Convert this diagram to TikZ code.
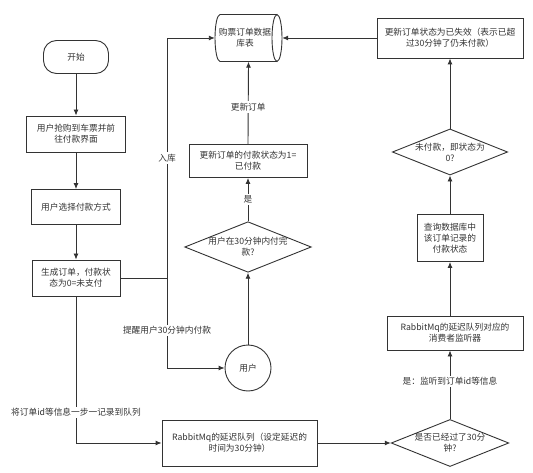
\documentclass[tikz,border=0pt]{standalone}
\usepackage{fontspec}
\setmainfont{Noto Sans CJK SC}
\usetikzlibrary{arrows.meta,shapes.geometric}
\definecolor{ink}{HTML}{333333}
\begin{document}
\begin{tikzpicture}[x=1pt,y=-1pt,
  every node/.style={font=\fontsize{8.7}{10.8}\selectfont, text=ink, align=center, inner sep=1pt},
  box/.style={draw=ink, line width=0.9pt, rectangle},
  dec/.style={draw=ink, line width=0.9pt, diamond, aspect=2.5, inner sep=0pt},
  conn/.style={draw=ink, line width=0.9pt, -{Latex[length=6pt,width=5pt]}},
  plain/.style={draw=ink, line width=0.9pt},
  lbl/.style={fill=white, inner sep=1.5pt}]
\path[use as bounding box, fill=white] (0,0) rectangle (533,473);

\node[box, rounded corners=13pt, minimum width=65pt, minimum height=33pt] (start) at (76,57) {开始};
\node[box, minimum width=99pt, minimum height=36pt] (b1) at (76,134) {用户抢购到车票并前\\往付款界面};
\node[box, minimum width=89pt, minimum height=35pt] (b2) at (76,207) {用户选择付款方式};
\node[box, minimum width=88pt, minimum height=36pt] (b3) at (76,278) {生成订单，付款状\\态为0=未支付};

% database cylinder (drawn by hand, named node for anchors)
\node[rectangle, minimum width=67pt, minimum height=47pt, inner sep=0pt] (db) at (248.5,38) {};
\draw[plain] (277,14.5) -- (220,14.5) arc[start angle=270, end angle=90, x radius=5, y radius=23.5] -- (277,61.5);
\draw[plain] (277,38) ellipse [x radius=5, y radius=23.5];
\node (dbt) at (245,38) {购票订单数据\\库表};

\node[box, minimum width=118pt, minimum height=33pt] (up1) at (248,161) {更新订单的付款状态为1=\\已付款};
\node[dec, minimum width=102pt, minimum height=36pt] (d1) at (248,247) {用户在30分钟内付完\\款?};
\node[draw=ink, line width=0.9pt, circle, minimum size=46pt] (user) at (248,368) {用户};
\node[box, minimum width=155pt, minimum height=46pt] (mq) at (239.5,443) {RabbitMq的延迟队列（设定延迟的\\时间为30分钟）};

\node[dec, minimum width=99pt, minimum height=44pt] (d2) at (450,443) {是否已经过了30分\\钟?};
\node[box, minimum width=136pt, minimum height=34pt] (lis) at (455,333) {RabbitMq的延迟队列对应的\\消费者监听器};
\node[box, minimum width=66pt, minimum height=47pt] (q) at (450,238) {查询数据库中\\该订单记录的\\付款状态};
\node[dec, minimum width=96pt, minimum height=43pt] (d3) at (450,152) {未付款，即状态为\\0?};
\node[box, minimum width=146pt, minimum height=40pt] (fail) at (450,38) {更新订单状态为已失效（表示已超\\过30分钟了仍未付款）};

\coordinate (j1) at (167,278);
\coordinate (j2) at (167,38);
\coordinate (j3) at (167,368);
\coordinate (j4) at (76,443);

\draw[conn] (start) -- (b1);
\draw[conn] (b1) -- (b2);
\draw[conn] (b2) -- (b3);
\draw[plain] (b3.east) -- (j1);
\draw[conn] (j1) -- node[lbl, pos=0.5] (l1) {入库} (j2) -- (db.west);
\draw[conn] (j1) -- node[lbl, pos=0.58] (l2) {提醒用户30分钟内付款} (j3) -- (user.west);
\draw[conn] (user) -- (d1.south);
\draw[conn] (d1.north) -- node[lbl] (l3) {是} (up1.south);
\draw[conn] (up1.north) -- node[lbl, pos=0.45] (l4) {更新订单} (db.south);
\draw[conn] (b3.south) -- node[lbl, pos=0.79] (l5) {将订单id等信息一步一记录到队列} (j4) -- (mq.west);
\draw[conn] (mq.east) -- (d2.west);
\draw[conn] (d2.north) -- node[lbl, pos=0.55] (l6) {是：监听到订单id等信息} (d2.north |- lis.south);
\draw[conn] (d2.north |- lis.north) -- (q.south);
\draw[conn] (q.north) -- (d3.south);
\draw[conn] (d3.north) -- (fail.south);
\draw[conn] (fail.west) -- (db.east);
\end{tikzpicture}
\end{document}
